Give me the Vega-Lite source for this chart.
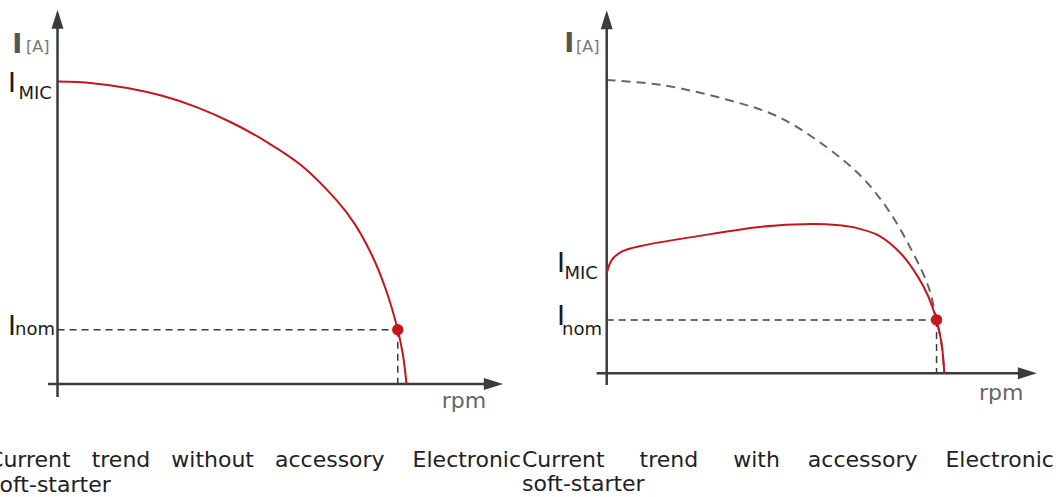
{
  "$schema": "https://vega.github.io/schema/vega-lite/v6.json",
  "padding": 0,
  "spacing": 0,
  "bounds": "flush",
  "background": "white",
  "config": {"view": {"stroke": null}, "text": {"font": "DejaVu Sans"}},
  "datasets": {
    "p1curve": [
      {"rpm": 0, "cur": 1}, {"rpm": 0.1, "cur": 0.995}, {"rpm": 0.2, "cur": 0.979}, {"rpm": 0.3, "cur": 0.953},
      {"rpm": 0.4, "cur": 0.915}, {"rpm": 0.5, "cur": 0.864}, {"rpm": 0.6, "cur": 0.8}, {"rpm": 0.7, "cur": 0.722},
      {"rpm": 0.8, "cur": 0.607}, {"rpm": 0.85, "cur": 0.532}, {"rpm": 0.9, "cur": 0.428}, {"rpm": 0.94, "cur": 0.315},
      {"rpm": 0.975, "cur": 0.179}, {"rpm": 0.99, "cur": 0.095}, {"rpm": 1, "cur": 0}
    ],
    "p1nom": [{"rpm": 0.975, "cur": 0.179}],
    "p1guides": [
      {"rpm": 0, "cur": 0.179, "rpm2": 0.975, "cur2": 0.179},
      {"rpm": 0.975, "cur": 0.179, "rpm2": 0.975, "cur2": 0}
    ],
    "p1axes": [
      {"rpm": 0, "cur": -0.043, "rpm2": 0, "cur2": 1.2},
      {"rpm": -0.027, "cur": 0, "rpm2": 1.245, "cur2": 0}
    ],
    "p1up": [{"rpm": 0, "cur": 1.206}],
    "p1right": [{"rpm": 1.249, "cur": 0}],
    "p1labels": [
      {"kind": "main", "t": "I", "rpm": -0.142, "cur": 0.966},
      {"kind": "sub", "t": "MIC", "rpm": -0.016, "cur": 0.944},
      {"kind": "main", "t": "I", "rpm": -0.142, "cur": 0.162},
      {"kind": "sub", "t": "nom", "rpm": -0.007, "cur": 0.162},
      {"kind": "unitI", "t": "I", "rpm": -0.13, "cur": 1.095},
      {"kind": "unit", "t": "[A]", "rpm": -0.09, "cur": 1.098},
      {"kind": "axis", "t": "rpm", "rpm": 1.101, "cur": -0.079},
      {"kind": "caption", "t": "Current\u00a0\u00a0\u00a0trend\u00a0\u00a0\u00a0without\u00a0\u00a0\u00a0accessory\u00a0\u00a0\u00a0\u00a0Electronic", "rpm": -0.199, "cur": -0.275},
      {"kind": "caption", "t": "soft-starter", "rpm": -0.199, "cur": -0.356}
    ],
    "p2red": [
      {"rpm": 0, "cur": 0.341}, {"rpm": 0.0148, "cur": 0.386}, {"rpm": 0.0444, "cur": 0.415}, {"rpm": 0.113, "cur": 0.437},
      {"rpm": 0.262, "cur": 0.466}, {"rpm": 0.459, "cur": 0.5}, {"rpm": 0.607, "cur": 0.509}, {"rpm": 0.68, "cur": 0.506},
      {"rpm": 0.735, "cur": 0.497}, {"rpm": 0.805, "cur": 0.47}, {"rpm": 0.874, "cur": 0.405}, {"rpm": 0.923, "cur": 0.327},
      {"rpm": 0.953, "cur": 0.261}, {"rpm": 0.977, "cur": 0.182}, {"rpm": 0.992, "cur": 0.102}, {"rpm": 1, "cur": 0}
    ],
    "p2dash": [
      {"rpm": 0, "cur": 1}, {"rpm": 0.163, "cur": 0.983}, {"rpm": 0.36, "cur": 0.932}, {"rpm": 0.508, "cur": 0.875},
      {"rpm": 0.656, "cur": 0.767}, {"rpm": 0.755, "cur": 0.67}, {"rpm": 0.834, "cur": 0.557}, {"rpm": 0.903, "cur": 0.42},
      {"rpm": 0.953, "cur": 0.295}, {"rpm": 0.977, "cur": 0.182}, {"rpm": 0.992, "cur": 0.096}, {"rpm": 1, "cur": 0}
    ],
    "p2nom": [{"rpm": 0.977, "cur": 0.182}],
    "p2guides": [
      {"rpm": 0, "cur": 0.182, "rpm2": 0.977, "cur2": 0.182},
      {"rpm": 0.977, "cur": 0.182, "rpm2": 0.977, "cur2": 0}
    ],
    "p2axes": [
      {"rpm": 0, "cur": -0.04, "rpm2": 0, "cur2": 1.2},
      {"rpm": -0.03, "cur": 0, "rpm2": 1.24, "cur2": 0}
    ],
    "p2up": [{"rpm": 0, "cur": 1.206}],
    "p2right": [{"rpm": 1.246, "cur": 0}],
    "p2labels": [
      {"kind": "main", "t": "I", "rpm": -0.147, "cur": 0.345},
      {"kind": "sub", "t": "MIC", "rpm": -0.026, "cur": 0.322},
      {"kind": "main", "t": "I", "rpm": -0.147, "cur": 0.165},
      {"kind": "sub", "t": "nom", "rpm": -0.014, "cur": 0.131},
      {"kind": "unitI", "t": "I", "rpm": -0.126, "cur": 1.095},
      {"kind": "unit", "t": "[A]", "rpm": -0.091, "cur": 1.095},
      {"kind": "axis", "t": "rpm", "rpm": 1.103, "cur": -0.091},
      {"kind": "caption", "t": "Current\u00a0\u00a0\u00a0\u00a0\u00a0trend\u00a0\u00a0\u00a0\u00a0\u00a0with\u00a0\u00a0\u00a0\u00a0accessory\u00a0\u00a0\u00a0\u00a0Electronic", "rpm": -0.251, "cur": -0.319},
      {"kind": "caption", "t": "soft-starter", "rpm": -0.251, "cur": -0.403}
    ]
  },
  "hconcat": [
    {
      "width": 521,
      "height": 497,
      "encoding": {
        "x": {"field": "rpm", "type": "quantitative", "scale": {"domain": [-0.1648, 1.3281], "nice": false, "zero": false}, "axis": null},
        "y": {"field": "cur", "type": "quantitative", "scale": {"domain": [-0.374, 1.27], "nice": false, "zero": false}, "axis": null}
      },
      "layer": [
        {"data": {"name": "p1guides"}, "mark": {"type": "rule", "color": "#3a3a3a", "strokeWidth": 1.5, "strokeDash": [7, 5]}, "encoding": {"x2": {"field": "rpm2"}, "y2": {"field": "cur2"}}},
        {"data": {"name": "p1axes"}, "mark": {"type": "rule", "color": "#3b3b3b", "strokeWidth": 2.5}, "encoding": {"x2": {"field": "rpm2"}, "y2": {"field": "cur2"}}},
        {"data": {"name": "p1up"}, "mark": {"type": "point", "shape": "M0,-1L0.63,1L-0.63,1Z", "size": 361, "filled": true, "opacity": 1, "color": "#3b3b3b"}, "encoding": {}},
        {"data": {"name": "p1right"}, "mark": {"type": "point", "shape": "M1,0L-1,0.63L-1,-0.63Z", "size": 361, "filled": true, "opacity": 1, "color": "#3b3b3b"}, "encoding": {}},
        {"data": {"name": "p1curve"}, "mark": {"type": "line", "color": "#c4161c", "strokeWidth": 2, "interpolate": "catmull-rom"}, "encoding": {}},
        {"data": {"name": "p1nom"}, "mark": {"type": "point", "shape": "circle", "size": 130, "filled": true, "opacity": 1, "color": "#c4161c"}, "encoding": {}},
        {"data": {"name": "p1labels"}, "transform": [{"filter": "datum.kind === 'main'"}], "mark": {"type": "text", "align": "left", "baseline": "alphabetic", "fontSize": 27, "color": "#1a1a1a"}, "encoding": {"text": {"field": "t"}}},
        {"data": {"name": "p1labels"}, "transform": [{"filter": "datum.kind === 'sub'"}], "mark": {"type": "text", "align": "right", "baseline": "alphabetic", "fontSize": 18, "color": "#1a1a1a"}, "encoding": {"text": {"field": "t"}}},
        {"data": {"name": "p1labels"}, "transform": [{"filter": "datum.kind === 'unitI'"}], "mark": {"type": "text", "align": "left", "baseline": "alphabetic", "fontSize": 27, "fontWeight": "bold", "color": "#555555"}, "encoding": {"text": {"field": "t"}}},
        {"data": {"name": "p1labels"}, "transform": [{"filter": "datum.kind === 'unit'"}], "mark": {"type": "text", "align": "left", "baseline": "alphabetic", "fontSize": 16, "color": "#777777"}, "encoding": {"text": {"field": "t"}}},
        {"data": {"name": "p1labels"}, "transform": [{"filter": "datum.kind === 'axis'"}], "mark": {"type": "text", "align": "left", "baseline": "alphabetic", "fontSize": 22, "color": "#666666"}, "encoding": {"text": {"field": "t"}}},
        {"data": {"name": "p1labels"}, "transform": [{"filter": "datum.kind === 'caption'"}], "mark": {"type": "text", "align": "left", "baseline": "alphabetic", "fontSize": 22, "color": "#222222", "clip": true}, "encoding": {"text": {"field": "t"}}}
      ]
    },
    {
      "width": 537,
      "height": 497,
      "encoding": {
        "x": {"field": "rpm", "type": "quantitative", "scale": {"domain": [-0.2539, 1.3368], "nice": false, "zero": false}, "axis": null},
        "y": {"field": "cur", "type": "quantitative", "scale": {"domain": [-0.422, 1.273], "nice": false, "zero": false}, "axis": null}
      },
      "layer": [
        {"data": {"name": "p2guides"}, "mark": {"type": "rule", "color": "#3a3a3a", "strokeWidth": 1.5, "strokeDash": [7, 5]}, "encoding": {"x2": {"field": "rpm2"}, "y2": {"field": "cur2"}}},
        {"data": {"name": "p2dash"}, "mark": {"type": "line", "color": "#666666", "strokeWidth": 2, "strokeDash": [9, 6], "interpolate": "catmull-rom"}, "encoding": {}},
        {"data": {"name": "p2axes"}, "mark": {"type": "rule", "color": "#3b3b3b", "strokeWidth": 2.5}, "encoding": {"x2": {"field": "rpm2"}, "y2": {"field": "cur2"}}},
        {"data": {"name": "p2up"}, "mark": {"type": "point", "shape": "M0,-1L0.63,1L-0.63,1Z", "size": 361, "filled": true, "opacity": 1, "color": "#3b3b3b"}, "encoding": {}},
        {"data": {"name": "p2right"}, "mark": {"type": "point", "shape": "M1,0L-1,0.63L-1,-0.63Z", "size": 361, "filled": true, "opacity": 1, "color": "#3b3b3b"}, "encoding": {}},
        {"data": {"name": "p2red"}, "mark": {"type": "line", "color": "#c4161c", "strokeWidth": 2, "interpolate": "catmull-rom"}, "encoding": {}},
        {"data": {"name": "p2nom"}, "mark": {"type": "point", "shape": "circle", "size": 130, "filled": true, "opacity": 1, "color": "#c4161c"}, "encoding": {}},
        {"data": {"name": "p2labels"}, "transform": [{"filter": "datum.kind === 'main'"}], "mark": {"type": "text", "align": "left", "baseline": "alphabetic", "fontSize": 27, "color": "#1a1a1a"}, "encoding": {"text": {"field": "t"}}},
        {"data": {"name": "p2labels"}, "transform": [{"filter": "datum.kind === 'sub'"}], "mark": {"type": "text", "align": "right", "baseline": "alphabetic", "fontSize": 18, "color": "#1a1a1a"}, "encoding": {"text": {"field": "t"}}},
        {"data": {"name": "p2labels"}, "transform": [{"filter": "datum.kind === 'unitI'"}], "mark": {"type": "text", "align": "left", "baseline": "alphabetic", "fontSize": 27, "fontWeight": "bold", "color": "#555555"}, "encoding": {"text": {"field": "t"}}},
        {"data": {"name": "p2labels"}, "transform": [{"filter": "datum.kind === 'unit'"}], "mark": {"type": "text", "align": "left", "baseline": "alphabetic", "fontSize": 16, "color": "#777777"}, "encoding": {"text": {"field": "t"}}},
        {"data": {"name": "p2labels"}, "transform": [{"filter": "datum.kind === 'axis'"}], "mark": {"type": "text", "align": "left", "baseline": "alphabetic", "fontSize": 22, "color": "#666666"}, "encoding": {"text": {"field": "t"}}},
        {"data": {"name": "p2labels"}, "transform": [{"filter": "datum.kind === 'caption'"}], "mark": {"type": "text", "align": "left", "baseline": "alphabetic", "fontSize": 22, "color": "#222222", "clip": true}, "encoding": {"text": {"field": "t"}}}
      ]
    }
  ]
}
